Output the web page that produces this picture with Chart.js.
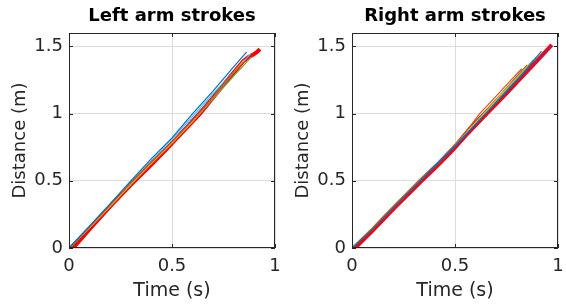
<!DOCTYPE html>
<html>
<head>
<meta charset="utf-8">
<script src="https://cdn.jsdelivr.net/npm/chart.js@4.4.1/dist/chart.umd.min.js"></script>
<style>
    body { margin: 0; background: #fff; }
    #wrap { display: flex; width: 566px; height: 304px; }
    canvas { display: block; }
</style>
</head>
<body>
<div id="wrap">
    <canvas id="leftChart" width="283" height="304"></canvas>
    <canvas id="rightChart" width="283" height="304"></canvas>
</div>
<script>
    'use strict';

    // matlab default line order
    var strokeColors = ['#0072BD', '#D95319', '#EDB120', '#7E2F8E', '#77AC30', '#4DBEEE', '#A2142F'];
    var meanColor = '#FF0000';

    var xTicks = [0, 0.5, 1];
    var yTicks = [0, 0.5, 1, 1.5];

    // ---- left arm strokes (time s / distance m) ----
    var leftT1 = [0, 0.1, 0.2, 0.3, 0.4, 0.5, 0.6, 0.7, 0.8, 0.862];
    var leftD1 = [0, 0.165, 0.33, 0.5, 0.665, 0.82, 1.0, 1.17, 1.35, 1.457];
    var leftT2 = [0.005, 0.1, 0.2, 0.3, 0.4, 0.5, 0.6, 0.7, 0.78, 0.845];
    var leftD2 = [0, 0.155, 0.32, 0.485, 0.64, 0.79, 0.95, 1.12, 1.27, 1.38];
    var leftT3 = [0.005, 0.1, 0.2, 0.3, 0.4, 0.5, 0.6, 0.7, 0.78, 0.85];
    var leftD3 = [0, 0.15, 0.31, 0.475, 0.63, 0.78, 0.94, 1.12, 1.27, 1.40];
    var leftT4 = [0, 0.1, 0.2, 0.3, 0.4, 0.5, 0.6, 0.7, 0.77, 0.83];
    var leftD4 = [0, 0.155, 0.32, 0.485, 0.64, 0.79, 0.96, 1.13, 1.26, 1.36];
    var leftT5 = [0, 0.1, 0.2, 0.3, 0.4, 0.5, 0.6, 0.7, 0.8, 0.885];
    var leftD5 = [0, 0.15, 0.31, 0.47, 0.63, 0.78, 0.94, 1.11, 1.28, 1.42];
    var leftT6 = [0, 0.1, 0.2, 0.3, 0.4, 0.5, 0.6, 0.7, 0.8, 0.882];
    var leftD6 = [0, 0.16, 0.325, 0.49, 0.65, 0.81, 0.98, 1.15, 1.31, 1.445];
    var leftT7 = [0.01, 0.1, 0.2, 0.3, 0.4, 0.5, 0.6, 0.7, 0.78, 0.84];
    var leftD7 = [0, 0.145, 0.31, 0.47, 0.63, 0.78, 0.94, 1.11, 1.26, 1.37];
    var leftMeanT = [0.02, 0.1, 0.2, 0.3, 0.4, 0.47, 0.55, 0.636, 0.7, 0.78, 0.846, 0.87, 0.895, 0.91, 0.927];
    var leftMeanD = [0, 0.14, 0.31, 0.47, 0.62, 0.73, 0.86, 1.0, 1.12, 1.27, 1.39, 1.42, 1.44, 1.455, 1.48];

    // ---- right arm strokes ----
    var rightT1 = [0, 0.1, 0.2, 0.33, 0.42, 0.5, 0.58, 0.65, 0.74, 0.83, 0.92];
    var rightD1 = [0, 0.14, 0.30, 0.5, 0.64, 0.76, 0.89, 1.0, 1.15, 1.30, 1.465];
    var rightT2 = [0, 0.1, 0.2, 0.33, 0.42, 0.5, 0.57, 0.62, 0.7, 0.76, 0.824];
    var rightD2 = [0, 0.15, 0.31, 0.51, 0.64, 0.77, 0.9, 1.0, 1.13, 1.23, 1.334];
    var rightT3 = [0, 0.1, 0.2, 0.33, 0.42, 0.5, 0.58, 0.64, 0.72, 0.8, 0.86];
    var rightD3 = [0, 0.15, 0.31, 0.51, 0.64, 0.77, 0.9, 1.0, 1.14, 1.27, 1.37];
    var rightT4 = [0.005, 0.1, 0.2, 0.335, 0.42, 0.5, 0.58, 0.65, 0.74, 0.84, 0.97];
    var rightD4 = [0, 0.14, 0.30, 0.5, 0.63, 0.75, 0.88, 1.0, 1.14, 1.30, 1.51];
    var rightT5 = [0, 0.1, 0.2, 0.33, 0.42, 0.5, 0.58, 0.645, 0.73, 0.81, 0.895];
    var rightD5 = [0, 0.15, 0.31, 0.51, 0.64, 0.76, 0.89, 1.0, 1.14, 1.28, 1.42];
    var rightT6 = [0, 0.1, 0.2, 0.33, 0.42, 0.5, 0.58, 0.645, 0.73, 0.81, 0.88];
    var rightD6 = [0, 0.14, 0.30, 0.5, 0.63, 0.76, 0.89, 1.0, 1.14, 1.28, 1.40];
    var rightT7 = [0, 0.1, 0.2, 0.33, 0.42, 0.5, 0.57, 0.635, 0.72, 0.79, 0.85];
    var rightD7 = [0, 0.15, 0.31, 0.51, 0.64, 0.77, 0.9, 1.0, 1.14, 1.26, 1.36];
    var rightMeanT = [0.015, 0.1, 0.2, 0.338, 0.42, 0.49, 0.56, 0.654, 0.73, 0.81, 0.89, 0.97];
    var rightMeanD = [0, 0.13, 0.29, 0.5, 0.62, 0.73, 0.85, 1.0, 1.12, 1.25, 1.38, 1.512];

    var leftStrokes = [[leftT1, leftD1], [leftT2, leftD2], [leftT3, leftD3], [leftT4, leftD4],
        [leftT5, leftD5], [leftT6, leftD6], [leftT7, leftD7]];
    var rightStrokes = [[rightT1, rightD1], [rightT2, rightD2], [rightT3, rightD3], [rightT4, rightD4],
        [rightT5, rightD5], [rightT6, rightD6], [rightT7, rightD7]];

    var axisColor = '#262626';
    var fontFamily = '"DejaVu Sans", sans-serif';

    function toPoints(t, d) {
        var pts = [];
        for (var i = 0; i < t.length; i++) {
            pts.push({ x: t[i], y: d[i] });
        }
        return pts;
    }

    // box round the axes + inward ticks, matlab style
    var boxPlugin = {
        id: 'matlabBox',
        afterDraw: function (chart) {
            var ctx = chart.ctx;
            var a = chart.chartArea;
            var xs = chart.scales.x, ys = chart.scales.y;
            var len = 4;
            ctx.save();
            ctx.strokeStyle = axisColor;
            ctx.lineWidth = 1;
            ctx.strokeRect(Math.round(a.left) + 0.5, Math.round(a.top) + 0.5,
                Math.round(a.right - a.left) - 1, Math.round(a.bottom - a.top) - 1);
            ctx.beginPath();
            xTicks.forEach(function (v) {
                var px = Math.round(xs.getPixelForValue(v)) + 0.5;
                ctx.moveTo(px, a.bottom); ctx.lineTo(px, a.bottom - len);
                ctx.moveTo(px, a.top); ctx.lineTo(px, a.top + len);
            });
            yTicks.forEach(function (v) {
                var py = Math.round(ys.getPixelForValue(v)) + 0.5;
                ctx.moveTo(a.left, py); ctx.lineTo(a.left + len, py);
                ctx.moveTo(a.right, py); ctx.lineTo(a.right - len, py);
            });
            ctx.stroke();
            ctx.restore();
        }
    };

    function makeChart(canvasId, titleText, strokes, meanT, meanD) {
        var datasets = [];
        strokes.forEach(function (s, i) {
            datasets.push({
                data: toPoints(s[0], s[1]),
                borderColor: strokeColors[i % strokeColors.length],
                borderWidth: 1.2,
                pointRadius: 0,
                showLine: true,
                tension: 0
            });
        });
        datasets.push({
            data: toPoints(meanT, meanD),
            borderColor: meanColor,
            borderWidth: 4,
            pointRadius: 0,
            showLine: true,
            tension: 0
        });

        var ctx = document.getElementById(canvasId).getContext('2d');
        return new Chart(ctx, {
            type: 'scatter',
            data: { datasets: datasets },
            plugins: [boxPlugin],
            options: {
                responsive: false,
                animation: false,
                devicePixelRatio: 1,
                layout: { padding: { left: 0, right: 8, top: 0, bottom: 0 } },
                plugins: {
                    legend: { display: false },
                    tooltip: { enabled: false },
                    title: {
                        display: true,
                        fullSize: false,
                        text: titleText,
                        color: '#000',
                        font: { family: fontFamily, size: 18, weight: 'bold' },
                        padding: { top: 6, bottom: 5.4 }
                    }
                },
                scales: {
                    x: {
                        type: 'linear',
                        min: 0,
                        max: 1,
                        afterFit: function (scale) {
                            scale.height = 56;
                            scale.paddingLeft = 0;
                            scale.paddingRight = 0;
                        },
                        afterBuildTicks: function (scale) {
                            scale.ticks = xTicks.map(function (v) { return { value: v }; });
                        },
                        ticks: {
                            color: axisColor,
                            padding: 8,
                            maxRotation: 0,
                            font: { family: fontFamily, size: 18 },
                            callback: function (v) { return String(v); }
                        },
                        grid: { color: '#dcdcdc', drawTicks: false, lineWidth: 1 },
                        border: { display: false },
                        title: {
                            display: true,
                            text: 'Time (s)',
                            color: axisColor,
                            font: { family: fontFamily, size: 19 },
                            padding: { top: 0, bottom: 2 }
                        }
                    },
                    y: {
                        type: 'linear',
                        min: 0,
                        max: 1.6,
                        afterFit: function (scale) { scale.width = 69; },
                        afterBuildTicks: function (scale) {
                            scale.ticks = yTicks.map(function (v) { return { value: v }; });
                        },
                        ticks: {
                            color: axisColor,
                            padding: 6,
                            font: { family: fontFamily, size: 18 },
                            callback: function (v) { return String(v); }
                        },
                        grid: { color: '#dcdcdc', drawTicks: false, lineWidth: 1 },
                        border: { display: false },
                        title: {
                            display: true,
                            text: 'Distance (m)',
                            color: axisColor,
                            font: { family: fontFamily, size: 18 },
                            padding: { top: 10, bottom: 0 }
                        }
                    }
                }
            }
        });
    }

    window.leftChart = makeChart('leftChart', 'Left arm strokes', leftStrokes, leftMeanT, leftMeanD);
    window.rightChart = makeChart('rightChart', 'Right arm strokes', rightStrokes, rightMeanT, rightMeanD);
</script>
</body>
</html>
